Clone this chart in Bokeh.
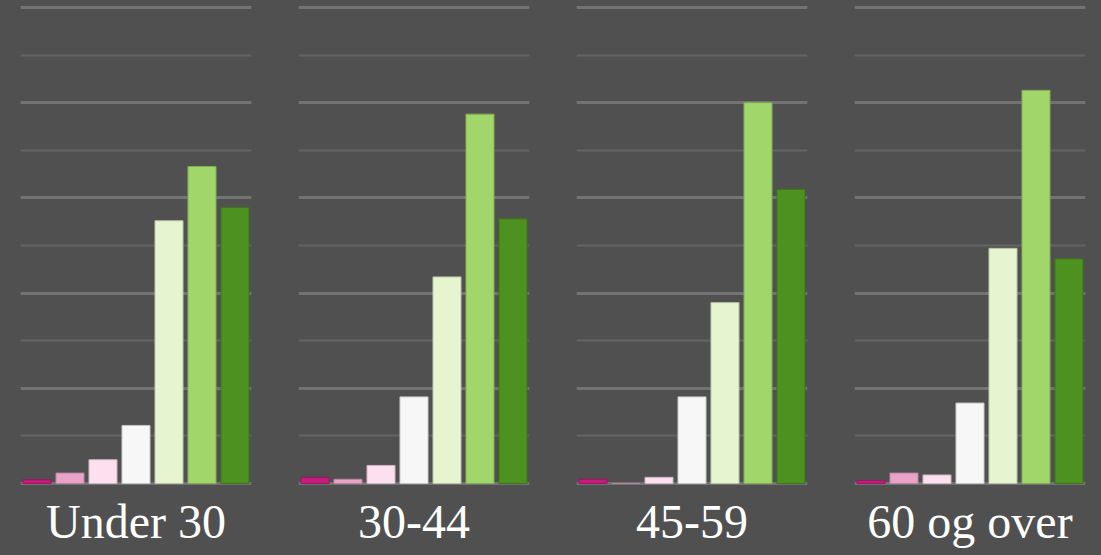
from bokeh.plotting import figure
from bokeh.layouts import row
from bokeh.models import FixedTicker, Range1d, FactorRange, ColumnDataSource, Label
from bokeh.embed import file_html
from bokeh.resources import INLINE

# ---- data (percent of respondents per answer level, by age group) ----
groups = ["Under 30", "30-44", "45-59", "60 og over"]
levels = ["1", "2", "3", "4", "5", "6", "7"]
under_30 = [0.4, 1.1, 2.5, 6.1, 27.6, 33.3, 29.0]
age_30_44 = [0.65, 0.45, 1.9, 9.1, 21.7, 38.8, 27.8]
age_45_59 = [0.45, 0.0, 0.65, 9.1, 19.0, 40.0, 30.9]
age_60_plus = [0.3, 1.1, 0.9, 8.45, 24.7, 41.3, 23.6]
series = [under_30, age_30_44, age_45_59, age_60_plus]

major_ticks = [0, 10, 20, 30, 40, 50]
minor_ticks = [5, 15, 25, 35, 45]

colors = ["#c51b7d", "#e9a3c9", "#fde0ef", "#f7f7f7", "#e6f5d0", "#a1d76a", "#4d9221"]


def darker(hex_color, f=0.8):
    r, g, b = (int(hex_color[i:i + 2], 16) for i in (1, 3, 5))
    return "#%02x%02x%02x" % (int(r * f), int(g * f), int(b * f))


outline = [darker(c) for c in colors]

BG = "#505050"
figs = []
for i, (name, vals) in enumerate(zip(groups, series)):
    last = i == len(groups) - 1
    p = figure(
        x_range=FactorRange(*levels, range_padding=0),
        y_range=Range1d(-7.56, 50.21),
        width=267 if last else 278,
        height=555,
        min_border_left=20,
        min_border_right=16 if last else 27,
        min_border_top=5,
        min_border_bottom=0,
        output_backend="svg",
        toolbar_location=None,
    )
    src = ColumnDataSource(dict(level=levels, value=vals, fill=colors, line=outline))
    p.vbar(x="level", top="value", width=0.85, source=src,
           fill_color="fill", line_color="line", line_width=1)

    p.background_fill_color = BG
    p.border_fill_color = BG
    p.outline_line_color = None

    p.yaxis.visible = False
    p.xaxis.visible = False
    p.xgrid.grid_line_color = None
    p.ygrid.ticker = FixedTicker(ticks=major_ticks, minor_ticks=minor_ticks)
    p.ygrid.grid_line_color = "#737373"
    p.ygrid.grid_line_width = 3
    p.ygrid.minor_grid_line_color = "#646464"
    p.ygrid.minor_grid_line_width = 2

    p.add_layout(Label(
        x=3.5, y=-4.0, text=name,
        text_align="center", text_baseline="alphabetic",
        text_font="Liberation Serif", text_font_size="48px",
        text_color="white",
    ))

    figs.append(p)

layout = row(*figs, spacing=0)
layout.styles = {"background-color": BG}

html = file_html(layout, INLINE)
html = html.replace("</head>", "<style>body{background-color:%s;}</style></head>" % BG, 1)
open("out.html", "w").write(html)
